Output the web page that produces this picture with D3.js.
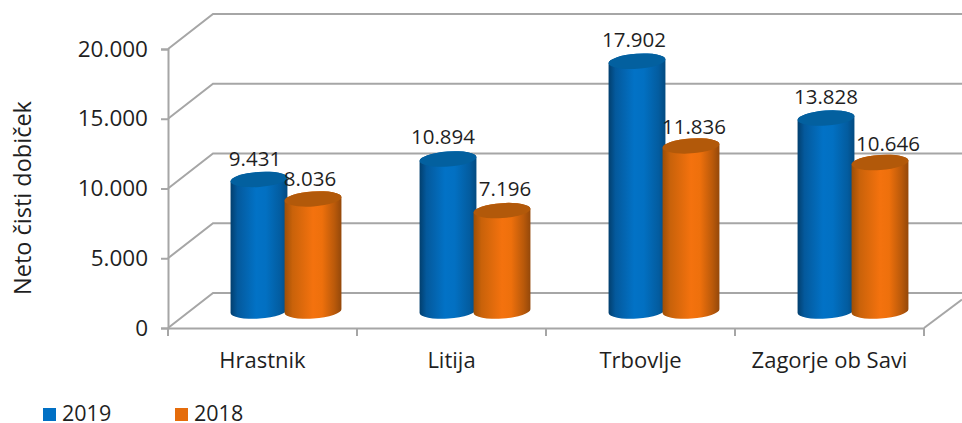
<!DOCTYPE html>
<html><head><meta charset="utf-8">
<script src="https://cdn.jsdelivr.net/npm/d3@7"></script>
<style>html,body{margin:0;padding:0;background:#fff;overflow:hidden}svg{display:block}text{font-family:"Open Sans",sans-serif;fill:#1f1f1f}</style>
</head><body><svg id="c" width="962" height="423"></svg>
<script>
const categories = ["Hrastnik","Litija","Trbovlje","Zagorje ob Savi"];
const seriesNames = ["2019","2018"];
const values2019 = [9431,10894,17902,13828];
const values2018 = [8036,7196,11836,10646];
const yTicks = [0,5000,10000,15000,20000];
const tickLabels = ["0","5.000","10.000","15.000","20.000"];
const labels2019 = ["9.431","10.894","17.902","13.828"];
const labels2018 = ["8.036","7.196","11.836","10.646"];

const svg = d3.select("#c");
const fmt = {left:168,right:924,zero:328,top:49,dx:47,dy:-35};
const y = d3.scaleLinear().domain([0,20000]).range([fmt.zero,fmt.top]);
const x = d3.scaleBand().domain(categories).range([fmt.left,fmt.right]);
const inner = d3.scaleBand().domain(seriesNames).range([-54,54]);
const gridColor = "#a6a6a6";
const midDy = 17, rx = 28.5, ry = 7.5, tilt = -4;

const defs = svg.append("defs");
function grad(id,stops){
  const g = defs.append("linearGradient").attr("id",id).attr("x1",0).attr("x2",1).attr("y1",0).attr("y2",0);
  stops.forEach(s=>g.append("stop").attr("offset",s[0]).attr("stop-color",s[1]));
}
grad("g2019",[[0,"#023f6e"],[.12,"#04599c"],[.45,"#0272c6"],[.62,"#0270c2"],[.88,"#035c9f"],[1,"#034a80"]]);
grad("g2018",[[0,"#9c4e06"],[.14,"#c9620a"],[.5,"#f4720e"],[.66,"#ee700c"],[.88,"#b9590a"],[1,"#94480a"]]);
const topColor = {"2019":"#03609f","2018":"#b2590a"};
const legendColor = {"2019":"#0170c4","2018":"#e56c0b"};

const grid = svg.append("g").attr("fill","none").attr("stroke",gridColor).attr("stroke-width",2);
yTicks.forEach(t=>{
  grid.append("path").attr("d",`M${fmt.left},${y(t)}L${fmt.left+45},${y(t)+fmt.dy}H962`);
});
grid.append("path").attr("d",`M${fmt.right},${y(0)}L962,${y(0)-28.5}`);

const yAxis = d3.axisLeft(y).tickValues(yTicks).tickSize(7).tickPadding(13).tickFormat((d,i)=>tickLabels[i]);
const ya = svg.append("g").attr("transform",`translate(${fmt.left},0)`).call(yAxis);
const xAxis = d3.axisBottom(x).tickSize(0).tickPadding(24);
const xa = svg.append("g").attr("transform",`translate(0,${fmt.zero})`).call(xAxis);
xa.selectAll(".tick line").remove();
svg.append("g").attr("stroke",gridColor).attr("stroke-width",2).selectAll("line")
  .data(d3.range(0,5)).join("line")
  .attr("x1",i=>fmt.left+i*x.bandwidth()).attr("x2",i=>fmt.left+i*x.bandwidth())
  .attr("y1",fmt.zero).attr("y2",fmt.zero+8);
[ya,xa].forEach(a=>{a.selectAll(".domain,.tick line").attr("stroke",gridColor).attr("stroke-width",2);
  a.selectAll("text").attr("font-size",22.5).style("fill","#1f1f1f").style("font-family",'"Open Sans",sans-serif');});
xa.selectAll("text").attr("font-size",22);

svg.append("text").attr("transform","translate(31,198) rotate(-90)").attr("text-anchor","middle").attr("font-size",23.5).text("Neto čisti dobiček");

const rows = [];
categories.forEach((c,i)=>{
  rows.push({c,s:"2019",v:values2019[i],l:labels2019[i],i});
  rows.push({c,s:"2018",v:values2018[i],l:labels2018[i],i});
});
const cx = d=>x(d.c)+x.bandwidth()/2+fmt.dx/2+inner(d.s)+inner.bandwidth()/2;
const h = d=>y(d.v)+midDy*-1;
const base = y(0)+midDy*-1;
const rad = tilt*Math.PI/180;
const ox = rx*Math.cos(rad), oy = rx*Math.sin(rad);
const g = svg.append("g").selectAll("g").data(rows).join("g");
g.append("path").attr("fill",d=>`url(#g${d.s})`).attr("d",d=>{
  const X=cx(d),T=h(d);
  return `M${X-ox},${T-oy}L${X-ox},${base-oy}A${rx},${ry} ${tilt} 0 0 ${X+ox},${base+oy}L${X+ox},${T+oy}A${rx},${ry} ${tilt} 0 0 ${X-ox},${T-oy}Z`;
});
g.append("ellipse").attr("cx",cx).attr("cy",h).attr("rx",rx).attr("ry",ry)
  .attr("transform",d=>`rotate(${tilt} ${cx(d)} ${h(d)})`).attr("fill",d=>topColor[d.s]);

// data-label placement offsets from the cylinder top (layout, not data)
const labelOffsetX = {"2019":[-4,-5,-3,0],"2018":[-3,3,3,8]};
const labelOffsetY = {"2019":[-21,-22,-21,-21],"2018":[-20,-22,-19,-19]};
svg.append("g").selectAll("text").data(rows).join("text")
  .attr("x",d=>cx(d)+labelOffsetX[d.s][d.i]).attr("y",d=>h(d)+labelOffsetY[d.s][d.i]).attr("dy","0.35em")
  .attr("text-anchor","middle").attr("font-size",20.5).text(d=>d.l);

const lx = d3.scalePoint().domain(seriesNames).range([43,175]);
const leg = svg.append("g").selectAll("g").data(seriesNames).join("g").attr("transform",d=>`translate(${lx(d)},408)`);
leg.append("rect").attr("width",13).attr("height",13).attr("fill",d=>legendColor[d]);
leg.append("text").attr("x",19).attr("y",13).attr("font-size",21.5).text(d=>d);
</script></body></html>
